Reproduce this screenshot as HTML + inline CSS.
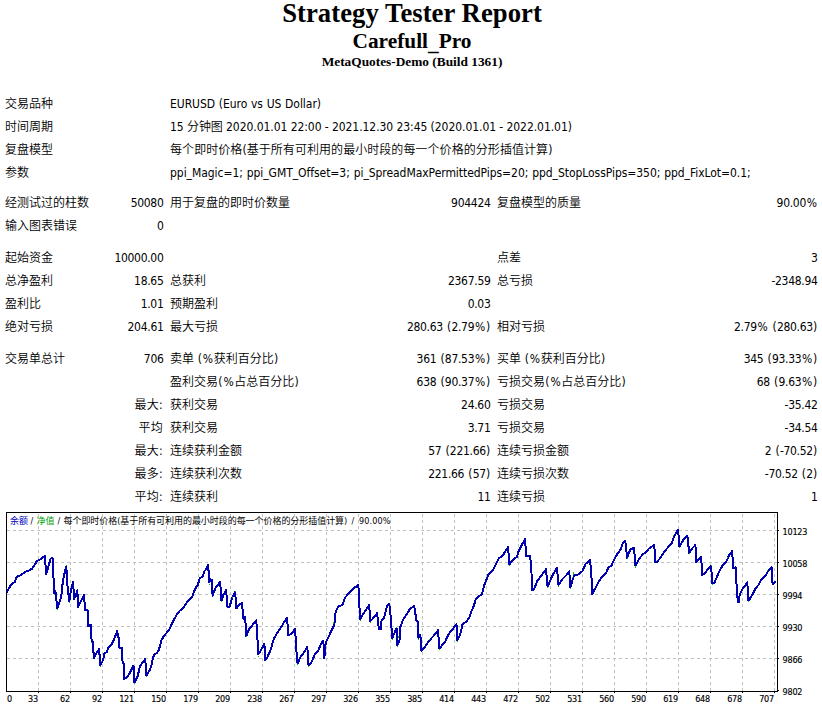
<!DOCTYPE html>
<html lang="zh-CN">
<head>
<meta charset="utf-8">
<title>Strategy Tester: Carefull_Pro</title>
<style>
html,body{margin:0;padding:0;background:#fff;}
body{width:822px;height:710px;overflow:hidden;position:relative;color:#000;}
.hd{position:absolute;left:1px;width:822px;text-align:center;font-family:"Liberation Serif","Noto Serif CJK SC",serif;font-weight:bold;white-space:nowrap;}
.h1{top:-2px;font-size:26.67px;line-height:31px;letter-spacing:0.05px;}
.h2{top:29px;font-size:21.33px;line-height:25px;}
.h2 .us{position:relative;top:2px;}
.h3{top:54px;font-size:13.33px;line-height:15px;}
table.rep{position:absolute;left:1px;top:92px;width:820px;border-collapse:separate;border-spacing:1px;table-layout:fixed;}
table.rep td{font-weight:350;font-family:"DejaVu Sans Condensed","Liberation Sans","Noto Sans CJK SC",sans-serif;font-size:12px;line-height:16px;height:16px;padding:3px;white-space:nowrap;overflow:visible;text-align:left;vertical-align:middle;}
table.rep td.r,table.rep td.rc{text-align:right;}
table.rep td.rc{letter-spacing:0.3px;}
table.rep td.l{letter-spacing:-0.05px;}
table.rep td.r{letter-spacing:-0.3px;padding-right:2.5px;word-spacing:0.7px;}
table.rep .pc{display:inline-block;width:11.6px;text-align:center;letter-spacing:0;}
table.rep .pa{display:inline-block;width:4.7px;text-align:center;letter-spacing:0;}
table.rep tr.gap td{height:8px;line-height:8px;padding:0;font-size:1px;}
table.rep tr.g1 td{height:6px;line-height:6px;}
#chart{position:absolute;left:1px;top:508px;width:820px;height:200px;}
</style>
</head>
<body>
<div class="hd h1">Strategy Tester Report</div>
<div class="hd h2">Carefull<span class="us">_</span>Pro</div>
<div class="hd h3">MetaQuotes-Demo (Build 1361)</div>
<table class="rep">
<colgroup><col style="width:82px"><col style="width:81px"><col style="width:163px"><col style="width:162px"><col style="width:163px"><col style="width:162px"></colgroup>
<tr><td colspan="2">交易品种</td><td colspan="4" class="l" style="word-spacing:0.4px">EURUSD (Euro vs US Dollar)</td></tr>
<tr><td colspan="2">时间周期</td><td colspan="4" class="l" style="word-spacing:-0.1px">15 分钟图 2020.01.01 22:00 - 2021.12.30 23:45 (2020.01.01 - 2022.01.01)</td></tr>
<tr><td colspan="2">复盘模型</td><td colspan="4" style="letter-spacing:0.06px">每个即时价格(基于所有可利用的最小时段的每一个价格的分形插值计算)</td></tr>
<tr><td colspan="2">参数</td><td colspan="4" class="l" style="word-spacing:0.5px">ppi_Magic=1; ppi_GMT_Offset=3; pi_SpreadMaxPermittedPips=20; ppd_StopLossPips=350; ppd_FixLot=0.1; </td></tr>
<tr class="gap g1"><td colspan="6"></td></tr>
<tr><td>经测试过的柱数</td><td class="r">50080</td><td>用于复盘的即时价数量</td><td class="r">904424</td><td>复盘模型的质量</td><td class="r">90.00<span class="pc">%</span></td></tr>
<tr><td>输入图表错误</td><td class="r">0</td><td></td><td class="r"></td><td></td><td class="r"></td></tr>
<tr class="gap"><td colspan="6"></td></tr>
<tr><td>起始资金</td><td class="r">10000.00</td><td></td><td class="r"></td><td>点差</td><td class="r">3</td></tr>
<tr><td>总净盈利</td><td class="r">18.65</td><td>总获利</td><td class="r">2367.59</td><td>总亏损</td><td class="r">-2348.94</td></tr>
<tr><td>盈利比</td><td class="r">1.01</td><td>预期盈利</td><td class="r">0.03</td><td></td><td class="r"></td></tr>
<tr><td>绝对亏损</td><td class="r">204.61</td><td>最大亏损</td><td class="r">280.63 <span class="pa">(</span>2.79<span class="pc">%</span><span class="pa">)</span></td><td>相对亏损</td><td class="r">2.79<span class="pc">%</span> <span class="pa">(</span>280.63<span class="pa">)</span></td></tr>
<tr class="gap"><td colspan="6"></td></tr>
<tr><td>交易单总计</td><td class="r">706</td><td>卖单 <span class="pa">(</span><span class="pc">%</span>获利百分比<span class="pa">)</span></td><td class="r">361 <span class="pa">(</span>87.53<span class="pc">%</span><span class="pa">)</span></td><td>买单 <span class="pa">(</span><span class="pc">%</span>获利百分比<span class="pa">)</span></td><td class="r">345 <span class="pa">(</span>93.33<span class="pc">%</span><span class="pa">)</span></td></tr>
<tr><td colspan="2" class="rc"></td><td>盈利交易<span class="pa">(</span><span class="pc">%</span>占总百分比<span class="pa">)</span></td><td class="r">638 <span class="pa">(</span>90.37<span class="pc">%</span><span class="pa">)</span></td><td>亏损交易<span class="pa">(</span><span class="pc">%</span>占总百分比<span class="pa">)</span></td><td class="r">68 <span class="pa">(</span>9.63<span class="pc">%</span><span class="pa">)</span></td></tr>
<tr><td colspan="2" class="rc">最大:</td><td>获利交易</td><td class="r">24.60</td><td>亏损交易</td><td class="r">-35.42</td></tr>
<tr><td colspan="2" class="rc">平均</td><td>获利交易</td><td class="r">3.71</td><td>亏损交易</td><td class="r">-34.54</td></tr>
<tr><td colspan="2" class="rc">最大:</td><td>连续获利金额</td><td class="r">57 <span class="pa">(</span>221.66<span class="pa">)</span></td><td>连续亏损金额</td><td class="r">2 <span class="pa">(</span>-70.52<span class="pa">)</span></td></tr>
<tr><td colspan="2" class="rc">最多:</td><td>连续获利次数</td><td class="r">221.66 <span class="pa">(</span>57<span class="pa">)</span></td><td>连续亏损次数</td><td class="r">-70.52 <span class="pa">(</span>2<span class="pa">)</span></td></tr>
<tr><td colspan="2" class="rc">平均:</td><td>连续获利</td><td class="r">11</td><td>连续亏损</td><td class="r">1</td></tr>
</table>
<svg id="chart" width="820" height="200" viewBox="1 508 820 200">
<rect x="1" y="508" width="820" height="200" fill="#fff"/>
<g stroke="#c0c0c0" stroke-width="1" stroke-dasharray="3 3" shape-rendering="crispEdges" fill="none">
<line x1="7" y1="530.5" x2="777" y2="530.5"/>
<line x1="7" y1="562.5" x2="777" y2="562.5"/>
<line x1="7" y1="594.5" x2="777" y2="594.5"/>
<line x1="7" y1="626.5" x2="777" y2="626.5"/>
<line x1="7" y1="658.5" x2="777" y2="658.5"/>
<line x1="38.5" y1="514" x2="38.5" y2="691" stroke-dashoffset="0"/>
<line x1="70.5" y1="514" x2="70.5" y2="691" stroke-dashoffset="0"/>
<line x1="102.5" y1="514" x2="102.5" y2="691" stroke-dashoffset="0"/>
<line x1="134.5" y1="514" x2="134.5" y2="691" stroke-dashoffset="0"/>
<line x1="166.5" y1="514" x2="166.5" y2="691" stroke-dashoffset="0"/>
<line x1="198.5" y1="514" x2="198.5" y2="691" stroke-dashoffset="0"/>
<line x1="230.5" y1="514" x2="230.5" y2="691" stroke-dashoffset="0"/>
<line x1="262.5" y1="514" x2="262.5" y2="691" stroke-dashoffset="0"/>
<line x1="294.5" y1="514" x2="294.5" y2="691" stroke-dashoffset="0"/>
<line x1="326.5" y1="514" x2="326.5" y2="691" stroke-dashoffset="0"/>
<line x1="358.5" y1="514" x2="358.5" y2="691" stroke-dashoffset="0"/>
<line x1="390.5" y1="514" x2="390.5" y2="691" stroke-dashoffset="0"/>
<line x1="422.5" y1="514" x2="422.5" y2="691" stroke-dashoffset="0"/>
<line x1="454.5" y1="514" x2="454.5" y2="691" stroke-dashoffset="0"/>
<line x1="486.5" y1="514" x2="486.5" y2="691" stroke-dashoffset="0"/>
<line x1="518.5" y1="514" x2="518.5" y2="691" stroke-dashoffset="0"/>
<line x1="550.5" y1="514" x2="550.5" y2="691" stroke-dashoffset="0"/>
<line x1="582.5" y1="514" x2="582.5" y2="691" stroke-dashoffset="0"/>
<line x1="614.5" y1="514" x2="614.5" y2="691" stroke-dashoffset="0"/>
<line x1="646.5" y1="514" x2="646.5" y2="691" stroke-dashoffset="0"/>
<line x1="678.5" y1="514" x2="678.5" y2="691" stroke-dashoffset="0"/>
<line x1="710.5" y1="514" x2="710.5" y2="691" stroke-dashoffset="0"/>
<line x1="742.5" y1="514" x2="742.5" y2="691" stroke-dashoffset="0"/>
<line x1="774.5" y1="514" x2="774.5" y2="691" stroke-dashoffset="0"/>
</g>
<g stroke="#000" stroke-width="1" shape-rendering="crispEdges" fill="none">
<rect x="6.5" y="512.5" width="771" height="179"/>
<line x1="778" y1="530.5" x2="779" y2="530.5"/>
<line x1="778" y1="562.5" x2="779" y2="562.5"/>
<line x1="778" y1="594.5" x2="779" y2="594.5"/>
<line x1="778" y1="626.5" x2="779" y2="626.5"/>
<line x1="778" y1="658.5" x2="779" y2="658.5"/>
<line x1="778" y1="690.5" x2="779" y2="690.5"/>
<line x1="38.5" y1="692" x2="38.5" y2="693"/>
<line x1="70.5" y1="692" x2="70.5" y2="693"/>
<line x1="102.5" y1="692" x2="102.5" y2="693"/>
<line x1="134.5" y1="692" x2="134.5" y2="693"/>
<line x1="166.5" y1="692" x2="166.5" y2="693"/>
<line x1="198.5" y1="692" x2="198.5" y2="693"/>
<line x1="230.5" y1="692" x2="230.5" y2="693"/>
<line x1="262.5" y1="692" x2="262.5" y2="693"/>
<line x1="294.5" y1="692" x2="294.5" y2="693"/>
<line x1="326.5" y1="692" x2="326.5" y2="693"/>
<line x1="358.5" y1="692" x2="358.5" y2="693"/>
<line x1="390.5" y1="692" x2="390.5" y2="693"/>
<line x1="422.5" y1="692" x2="422.5" y2="693"/>
<line x1="454.5" y1="692" x2="454.5" y2="693"/>
<line x1="486.5" y1="692" x2="486.5" y2="693"/>
<line x1="518.5" y1="692" x2="518.5" y2="693"/>
<line x1="550.5" y1="692" x2="550.5" y2="693"/>
<line x1="582.5" y1="692" x2="582.5" y2="693"/>
<line x1="614.5" y1="692" x2="614.5" y2="693"/>
<line x1="646.5" y1="692" x2="646.5" y2="693"/>
<line x1="678.5" y1="692" x2="678.5" y2="693"/>
<line x1="710.5" y1="692" x2="710.5" y2="693"/>
<line x1="742.5" y1="692" x2="742.5" y2="693"/>
<line x1="774.5" y1="692" x2="774.5" y2="693"/>
</g>
<polyline fill="none" stroke="#0000b0" stroke-width="2" stroke-linejoin="round" stroke-linecap="butt" shape-rendering="crispEdges" points="6.7,592.2 11.4,584.2 14.7,582.2 16.7,576.8 20.1,575.5 24.8,572.1 28.8,570.5 32.1,568.8 36.8,561.2 40.2,559.4 44.8,556.1 46.2,574.1 50.6,558.7 52.6,558.1 54.2,592.9 55.5,591.5 57.3,608.3 60.0,600.9 61.8,592.9 62.9,580.2 66.3,566.1 67.3,584.2 69.3,601.6 71.0,589.5 73.2,582.2 74.0,598.9 75.6,596.2 77.4,590.2 78.0,606.9 80.3,602.2 84.1,594.9 85.0,610.3 87.7,610.3 88.3,626.1 90.7,624.8 91.6,640.2 93.0,642.2 93.8,658.2 96.7,652.9 99.1,648.9 100.3,665.6 103.4,658.9 104.4,653.5 106.8,652.2 108.4,647.1 111.5,644.8 115.1,636.8 117.1,631.1 118.8,638.8 119.5,647.5 121.8,647.5 122.6,662.9 123.9,663.6 124.2,679.0 127.5,677.0 131.5,669.6 133.5,665.6 134.5,682.7 137.6,676.3 140.0,666.3 142.9,662.2 145.2,658.9 146.5,675.6 149.6,670.3 151.4,665.6 153.0,657.6 154.3,654.6 157.0,652.9 159.0,649.5 161.7,639.5 164.3,635.5 169.0,630.1 173.0,621.4 177.0,614.1 179.7,610.7 183.1,608.0 187.1,602.0 189.4,599.8 192.8,595.8 194.1,591.1 196.1,587.1 197.8,585.1 199.7,578.4 202.8,576.4 204.1,571.7 206.1,569.1 208.2,565.0 209.2,582.4 210.2,579.1 211.8,579.8 212.6,595.8 215.5,587.8 220.2,582.0 221.5,600.5 223.5,594.5 226.2,590.1 227.3,606.5 229.6,606.5 232.2,597.8 235.2,592.2 236.3,608.5 238.9,605.2 241.6,602.9 243.0,611.9 243.2,618.6 245.2,617.2 246.3,636.0 249.0,629.3 252.3,625.3 256.3,620.2 257.4,637.9 258.3,654.5 261.3,649.6 264.4,643.8 265.2,660.0 267.3,657.5 270.8,649.3 273.7,639.1 277.5,632.5 281.5,626.5 284.8,621.1 287.1,617.8 288.2,635.2 291.5,633.9 295.2,628.9 296.0,646.6 297.6,664.0 300.2,657.3 304.3,651.9 307.3,646.8 308.5,665.3 311.6,662.0 315.0,653.9 317.6,651.9 321.0,643.9 323.3,640.6 324.3,658.0 325.7,642.6 329.0,635.9 332.4,628.5 334.4,624.5 335.3,613.8 337.1,608.4 339.1,606.2 342.4,604.8 345.1,597.7 348.1,593.8 351.4,590.2 354.8,587.5 358.4,585.1 359.2,602.5 360.1,619.2 364.1,612.5 369.1,605.2 370.4,621.2 373.5,617.9 377.1,613.2 378.9,629.3 380.6,629.3 381.5,621.2 384.2,617.2 386.9,606.5 389.3,604.1 390.9,618.5 392.2,638.0 394.9,631.9 396.5,628.2 397.3,645.3 399.6,640.0 400.3,627.2 403.0,619.9 407.0,613.9 410.3,608.5 414.3,606.2 416.3,619.9 417.7,621.9 418.4,638.0 420.4,634.6 421.4,650.7 425.0,646.7 429.4,640.4 434.0,635.4 438.1,630.3 439.3,648.9 443.1,643.7 445.1,641.7 448.4,634.3 451.8,630.3 456.5,624.3 457.4,640.3 460.1,635.0 462.5,624.3 466.5,621.6 469.2,617.6 471.6,610.9 473.9,605.5 475.9,598.8 478.5,596.8 481.9,594.1 484.6,584.1 488.6,574.1 492.7,570.5 496.0,563.8 498.7,558.5 502.7,555.8 505.8,550.4 508.1,547.1 509.4,564.5 513.4,559.1 516.8,557.1 518.4,551.8 522.1,544.4 525.1,539.1 526.1,555.8 530.2,555.8 531.5,573.2 532.2,590.2 533.5,590.2 537.5,580.6 541.5,575.2 546.0,569.2 547.6,586.6 551.6,577.2 556.9,567.6 558.5,585.2 562.3,579.2 567.0,574.5 569.3,571.2 570.3,587.7 573.0,578.5 574.3,574.8 578.4,574.5 582.4,571.2 585.7,563.8 590.1,560.1 591.5,577.9 592.0,594.6 595.4,588.0 599.4,580.6 602.7,575.9 606.7,571.9 608.1,567.9 611.4,565.6 614.8,558.5 617.4,553.8 620.8,549.1 622.8,543.1 625.2,540.7 627.2,557.8 630.2,549.8 633.9,547.5 635.5,565.6 638.9,559.2 642.9,554.1 646.2,552.2 648.9,548.5 654.3,545.1 655.2,561.9 656.9,561.9 660.3,558.1 663.0,553.8 667.0,548.5 671.7,543.1 674.1,536.4 678.1,529.5 679.4,546.9 683.7,539.4 687.4,535.9 689.2,553.0 692.9,547.6 695.4,545.0 696.3,562.0 698.1,560.2 701.2,556.8 702.1,574.9 704.1,574.2 708.1,568.9 711.1,565.8 712.4,584.0 714.5,582.7 718.8,572.2 722.2,566.2 726.2,561.5 729.8,554.1 732.2,551.1 733.1,568.2 735.6,567.5 736.5,584.3 737.8,601.9 738.8,601.9 739.6,595.0 742.9,588.3 747.3,582.5 748.5,601.0 753.0,593.6 755.6,588.3 759.0,584.3 761.0,579.6 765.7,575.6 768.4,570.2 771.7,567.5 772.6,584.3 775.7,581.6"/>
<g font-family="'DejaVu Sans Condensed','Noto Sans CJK SC',sans-serif" font-size="9" fill="#000" stroke="#000" stroke-width="0.15" letter-spacing="-0.2">
<text x="782.5" y="535">10123</text>
<text x="782.5" y="567">10058</text>
<text x="782.5" y="599">9994</text>
<text x="782.5" y="631">9930</text>
<text x="782.5" y="663">9866</text>
<text x="782.5" y="695">9802</text>
<text x="7" y="702">0</text>
<text x="38" y="702" text-anchor="end">33</text>
<text x="70" y="702" text-anchor="end">62</text>
<text x="102" y="702" text-anchor="end">92</text>
<text x="134" y="702" text-anchor="end">121</text>
<text x="166" y="702" text-anchor="end">150</text>
<text x="198" y="702" text-anchor="end">179</text>
<text x="230" y="702" text-anchor="end">209</text>
<text x="262" y="702" text-anchor="end">238</text>
<text x="294" y="702" text-anchor="end">267</text>
<text x="326" y="702" text-anchor="end">297</text>
<text x="358" y="702" text-anchor="end">326</text>
<text x="390" y="702" text-anchor="end">355</text>
<text x="422" y="702" text-anchor="end">385</text>
<text x="454" y="702" text-anchor="end">414</text>
<text x="486" y="702" text-anchor="end">443</text>
<text x="518" y="702" text-anchor="end">472</text>
<text x="550" y="702" text-anchor="end">502</text>
<text x="582" y="702" text-anchor="end">531</text>
<text x="614" y="702" text-anchor="end">560</text>
<text x="646" y="702" text-anchor="end">590</text>
<text x="678" y="702" text-anchor="end">619</text>
<text x="710" y="702" text-anchor="end">648</text>
<text x="742" y="702" text-anchor="end">678</text>
<text x="774" y="702" text-anchor="end">707</text>
</g>
<g fill="#00c000" shape-rendering="crispEdges">
<rect x="54" y="594" width="1" height="1"/>
<rect x="57" y="609" width="1" height="1"/>
<rect x="66" y="565" width="1" height="1"/>
<rect x="69" y="602" width="1" height="1"/>
<rect x="91" y="642" width="1" height="1"/>
<rect x="100" y="666" width="1" height="1"/>
<rect x="101" y="661" width="1" height="1"/>
<rect x="134" y="683" width="1" height="1"/>
<rect x="146" y="676" width="1" height="1"/>
<rect x="209" y="584" width="1" height="1"/>
<rect x="221" y="601" width="1" height="1"/>
<rect x="235" y="591" width="1" height="1"/>
<rect x="232" y="597" width="1" height="1"/>
<rect x="246" y="636" width="1" height="1"/>
<rect x="258" y="656" width="1" height="1"/>
<rect x="297" y="664" width="1" height="1"/>
<rect x="308" y="666" width="1" height="1"/>
<rect x="333" y="622" width="1" height="1"/>
<rect x="333" y="623" width="1" height="1"/>
<rect x="360" y="620" width="1" height="1"/>
<rect x="370" y="622" width="1" height="1"/>
<rect x="392" y="639" width="1" height="1"/>
<rect x="396" y="627" width="1" height="1"/>
<rect x="397" y="646" width="1" height="1"/>
<rect x="398" y="636" width="1" height="1"/>
<rect x="398" y="637" width="1" height="1"/>
<rect x="418" y="639" width="1" height="1"/>
<rect x="429" y="639" width="1" height="1"/>
<rect x="439" y="649" width="1" height="1"/>
<rect x="457" y="641" width="1" height="1"/>
<rect x="509" y="565" width="1" height="1"/>
<rect x="547" y="587" width="1" height="1"/>
<rect x="558" y="586" width="1" height="1"/>
<rect x="570" y="588" width="1" height="1"/>
<rect x="573" y="572" width="1" height="1"/>
<rect x="573" y="573" width="1" height="1"/>
<rect x="573" y="574" width="1" height="1"/>
<rect x="572" y="577" width="1" height="1"/>
<rect x="627" y="558" width="1" height="1"/>
<rect x="635" y="566" width="1" height="1"/>
<rect x="635" y="567" width="1" height="1"/>
<rect x="673" y="535" width="1" height="1"/>
<rect x="679" y="547" width="1" height="1"/>
<rect x="689" y="553" width="1" height="1"/>
<rect x="711" y="565" width="1" height="1"/>
<rect x="712" y="584" width="1" height="1"/>
<rect x="727" y="557" width="1" height="1"/>
<rect x="748" y="601" width="1" height="1"/>
<rect x="767" y="570" width="1" height="1"/>
</g>
<text y="524" font-family="'DejaVu Sans Condensed','Liberation Sans','Noto Sans CJK SC',sans-serif" font-size="9" fill="#000"><tspan x="10" fill="#0000c0">余额</tspan><tspan x="30.6">/</tspan><tspan x="36.5" fill="#00a000">净值</tspan><tspan x="57.4">/</tspan><tspan x="63.5" letter-spacing="-0.05">每个即时价格(基于所有可利用的最小时段的每一个价格的分形插值计算)</tspan><tspan x="351.5">/</tspan><tspan x="359" letter-spacing="0.1">90.00%</tspan></text>
</svg>
</body>
</html>
